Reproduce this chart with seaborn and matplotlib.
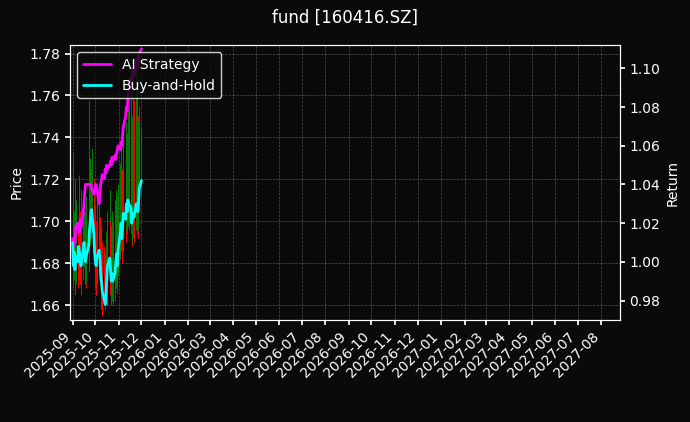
import pandas as pd
import numpy as np
import seaborn as sns
import matplotlib
matplotlib.use("Agg")
import matplotlib.pyplot as plt
import matplotlib.dates as mdates

# daily prices and returns
dates = pd.bdate_range("2025-09-01", periods=66)
close = [1.692, 1.680, 1.687, 1.678, 1.685, 1.682, 1.690, 1.687, 1.684, 1.680, 1.688, 1.692, 1.686, 1.682, 1.685, 1.690, 1.697, 1.702, 1.707, 1.709, 1.697, 1.687,
         1.682, 1.680, 1.684, 1.688, 1.685, 1.677, 1.672, 1.667, 1.662, 1.660, 1.664, 1.672, 1.680, 1.684, 1.678, 1.672, 1.676, 1.672, 1.676, 1.682, 1.686, 1.680, 1.688,
         1.697, 1.702, 1.694, 1.700, 1.707, 1.704, 1.712, 1.708, 1.714, 1.712, 1.710, 1.702, 1.704, 1.707, 1.705, 1.712, 1.710, 1.708, 1.712, 1.720,
         1.724]
high = [1.712, 1.733, 1.705, 1.720, 1.710, 1.700, 1.722, 1.712, 1.705, 1.715, 1.710, 1.718, 1.705, 1.708, 1.712, 1.745, 1.758, 1.730, 1.725, 1.735, 1.720, 1.708,
        1.705, 1.700, 1.712, 1.708, 1.702, 1.698, 1.695, 1.690, 1.688, 1.685, 1.695, 1.700, 1.705, 1.715, 1.700, 1.698, 1.705, 1.700, 1.710, 1.715, 1.712, 1.708, 1.718,
        1.728, 1.735, 1.725, 1.740, 1.745, 1.738, 1.748, 1.742, 1.755, 1.760, 1.765, 1.742, 1.750, 1.768, 1.758, 1.775, 1.762, 1.750, 1.748, 1.755,
        1.745]
low = [1.675, 1.668, 1.672, 1.665, 1.670, 1.668, 1.675, 1.672, 1.670, 1.665, 1.672, 1.678, 1.670, 1.668, 1.670, 1.676, 1.682, 1.688, 1.692, 1.695, 1.682, 1.672,
       1.668, 1.665, 1.670, 1.672, 1.670, 1.662, 1.658, 1.655, 1.662, 1.658, 1.660, 1.660, 1.665, 1.670, 1.665, 1.660, 1.662, 1.660, 1.662, 1.668, 1.672, 1.666, 1.674,
       1.682, 1.686, 1.680, 1.686, 1.692, 1.690, 1.696, 1.694, 1.698, 1.696, 1.694, 1.688, 1.690, 1.692, 1.690, 1.696, 1.694, 1.692, 1.696, 1.705,
       1.712]
ai_return = [1.012, 1.008, 1.012, 1.010, 1.018, 1.020, 1.016, 1.015, 1.022, 1.018, 1.025, 1.030, 1.036, 1.040, 1.040, 1.040, 1.040, 1.040, 1.040, 1.038, 1.035, 1.036,
             1.040, 1.040, 1.038, 1.030, 1.035, 1.040, 1.042, 1.045, 1.043, 1.048, 1.046, 1.050, 1.048, 1.050, 1.052, 1.050, 1.054, 1.052, 1.055, 1.053, 1.056, 1.058, 1.060,
             1.058, 1.062, 1.060, 1.065, 1.070, 1.075, 1.080, 1.078, 1.085, 1.090, 1.095, 1.092, 1.098, 1.100, 1.096, 1.102, 1.105, 1.100, 1.106, 1.108,
             1.110]
bh_return = [1.010, 0.998, 1.005, 0.996, 1.003, 1.000, 1.008, 1.005, 1.002, 0.998, 1.006, 1.010, 1.004, 1.000, 1.003, 1.008, 1.015, 1.020, 1.025, 1.027, 1.015, 1.005,
             1.000, 0.998, 1.002, 1.006, 1.003, 0.995, 0.990, 0.985, 0.980, 0.978, 0.982, 0.990, 0.998, 1.002, 0.996, 0.990, 0.994, 0.990, 0.994, 1.000, 1.004, 0.998, 1.006,
             1.015, 1.020, 1.012, 1.018, 1.025, 1.022, 1.030, 1.026, 1.032, 1.030, 1.028, 1.020, 1.022, 1.025, 1.023, 1.030, 1.028, 1.026, 1.030, 1.038,
             1.042]

df = pd.DataFrame({"date": dates, "close": close, "high": high, "low": low,
                   "ai": ai_return, "bh": bh_return})
df["open"] = df["close"].shift(1).fillna(df["close"].iloc[0])

sns.set_theme(style="dark", rc={"font.size": 10, "axes.labelsize": 10, "xtick.labelsize": 10,
                                "ytick.labelsize": 10, "legend.fontsize": 10, "figure.titlesize": 12})
bg = "#0a0a0a"
plt.rcParams.update({"figure.facecolor": bg, "axes.facecolor": bg, "text.color": "white",
                     "axes.labelcolor": "white", "xtick.color": "white", "ytick.color": "white",
                     "axes.edgecolor": "white", "xtick.major.size": 3.5, "ytick.major.size": 3.5,
                     "xtick.bottom": True, "ytick.left": True})
plt.rcParams["font.family"] = ["DejaVu Sans"]

fig, ax = plt.subplots(figsize=(6.9, 4.22), dpi=100)
fig.subplots_adjust(left=0.102, right=0.898, top=0.893, bottom=0.242)

colors = np.where(df["close"] >= df["open"], "green", "red")
ax.vlines(df["date"], df["low"], df["high"], colors=colors, linewidth=0.7)
ax.set_ylim(1.653, 1.784)
ax.set_ylabel("Price")
ax.grid(True, color="gray", linestyle="--", linewidth=0.5, alpha=0.6)

ax2 = ax.twinx()
sns.lineplot(data=df, x="date", y="ai", ax=ax2, color="magenta", linewidth=2, label="AI Strategy")
sns.lineplot(data=df, x="date", y="bh", ax=ax2, color="cyan", linewidth=2, label="Buy-and-Hold")
ax2.set_ylim(0.970, 1.112)
ax2.set_ylabel("Return")
ax2.set_xlabel("")
ax2.tick_params(right=True)
ax2.legend(loc="upper left", facecolor=bg, edgecolor="white", labelcolor="white")

ax.set_xlim(pd.Timestamp("2025-08-29"), pd.Timestamp("2027-08-25"))
ax.xaxis.set_major_locator(mdates.MonthLocator())
ax.xaxis.set_major_formatter(mdates.DateFormatter("%Y-%m"))
plt.setp(ax.get_xticklabels(), rotation=45, ha="right")
for a in (ax, ax2):
    for s in a.spines.values():
        s.set_color("white")
        s.set_linewidth(0.8)

fig.suptitle("fund [160416.SZ]", color="white")
fig.savefig("out.png", facecolor=bg)
